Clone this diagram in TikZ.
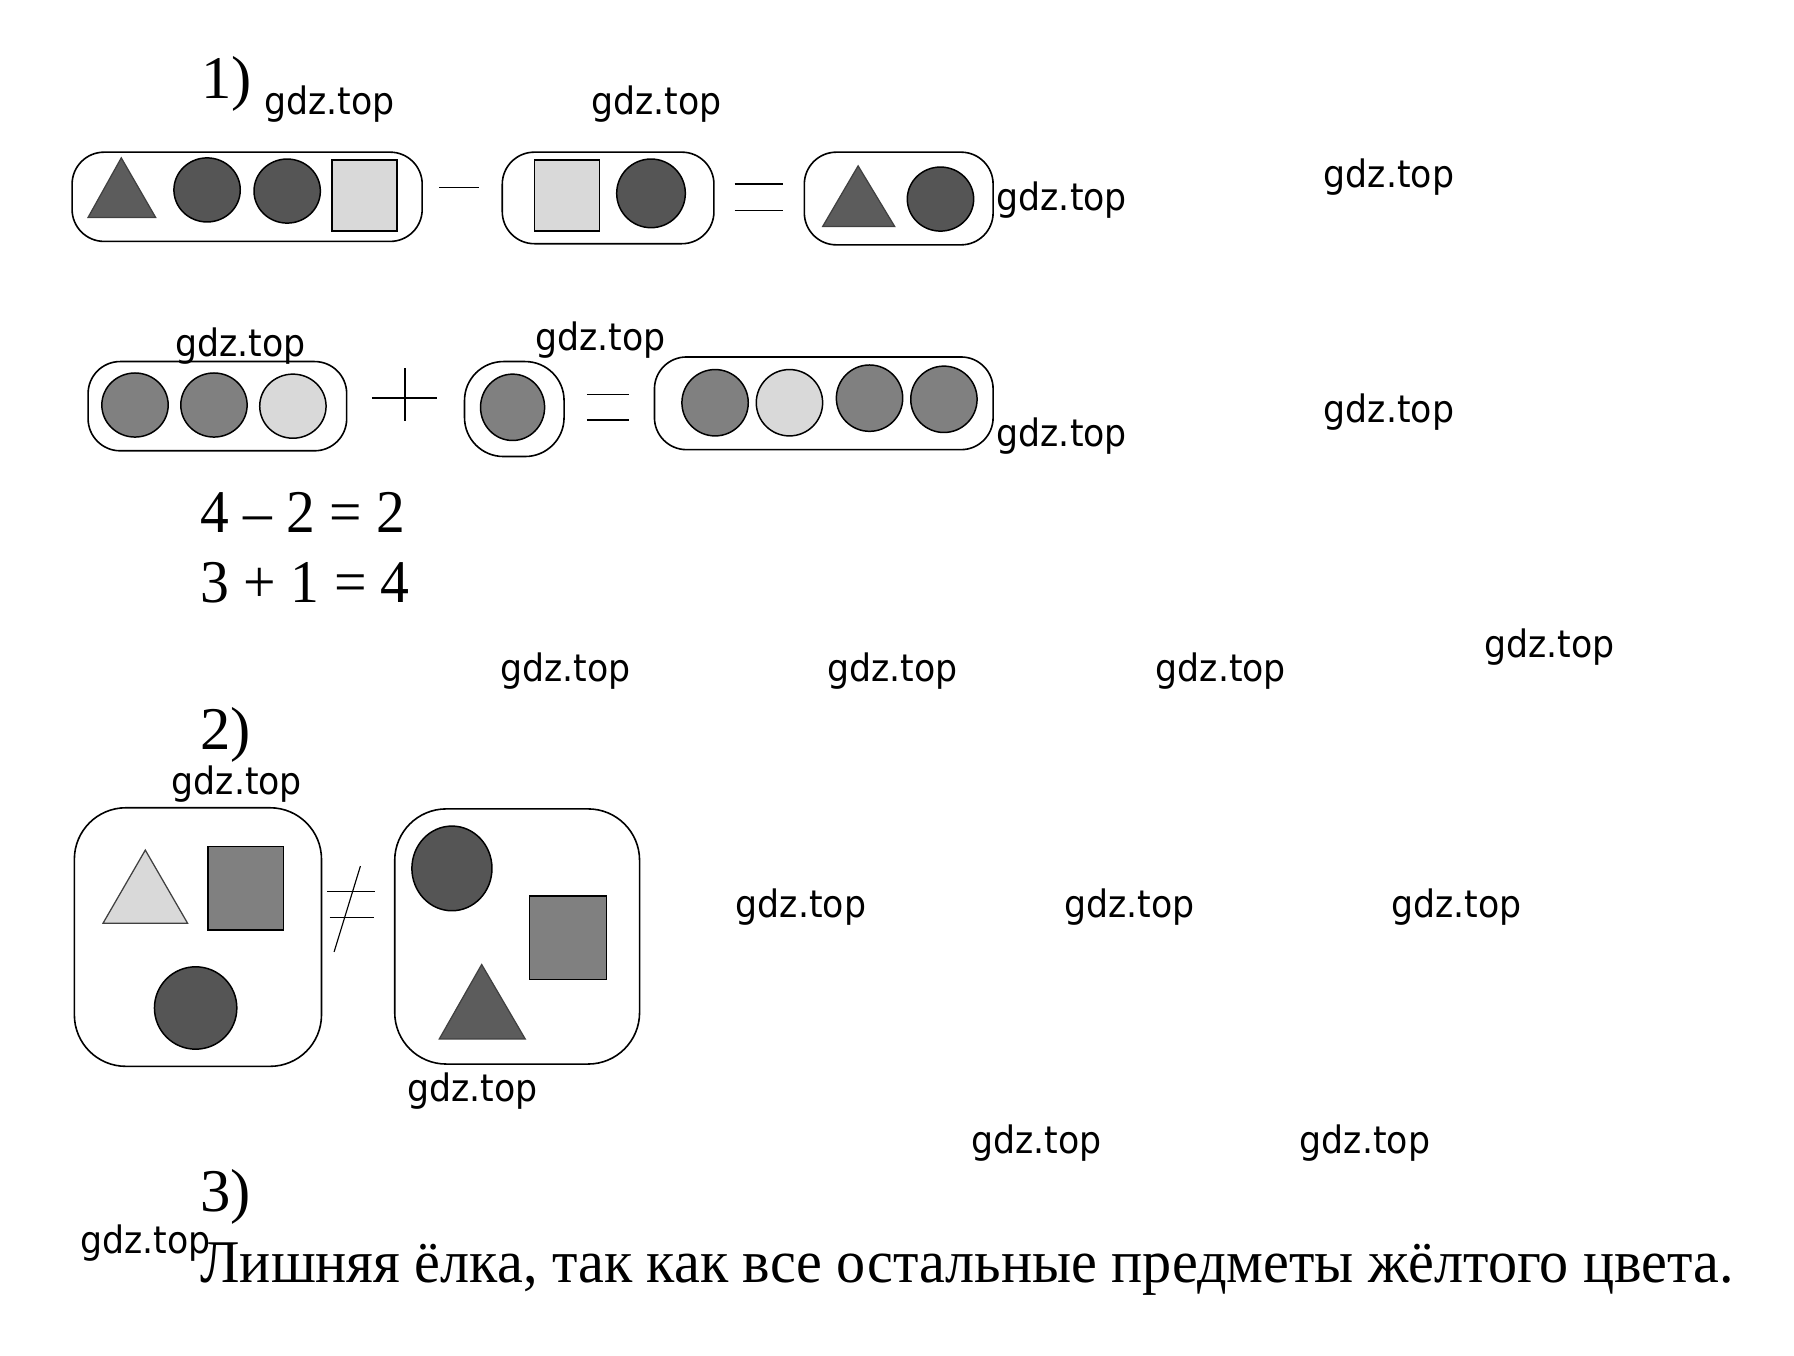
\documentclass[tikz,border=0pt]{standalone}
\usepackage{fontspec}
\setmainfont{Liberation Serif}
\newfontfamily\wm{DejaVu Sans}
\definecolor{dkgray}{HTML}{555555}
\definecolor{trgray}{HTML}{5C5C5C}
\definecolor{mdgray}{HTML}{808080}
\definecolor{ltgray}{HTML}{D9D9D9}
\newcommand\gdzmark{\scalebox{0.92}[1]{gdz.top}}
\begin{document}
\begin{tikzpicture}[x=1pt,y=-1pt,
  box/.style={draw=black,line width=1.4pt,rounded corners=#1},
  box/.default=28pt,
  shp/.style={draw=black,line width=1.3pt,fill=#1},
  tri/.style={draw=black!75,line width=1.1pt,fill=#1},
  op/.style={draw=black,line width=1.3pt},
  wmk/.style={anchor=base,font=\wm\fontsize{33}{36}\selectfont,inner sep=0pt},
  txt/.style={anchor=base west,font=\fontsize{53}{60}\selectfont,inner sep=0pt}]
\useasboundingbox[fill=white] (0,0) rectangle (1568,1185);

% ---------- 1) ----------
\node[txt] (n1) at (176,86) {1)};
% row 1
\draw[box] (63,133) rectangle (369,211);
\draw[tri=trgray] (106,138) -- (136,190) -- (77,190) -- cycle;
\draw[shp=dkgray] (181,166) circle[x radius=29pt,y radius=28pt];
\draw[shp=dkgray] (251,167) circle[x radius=29pt,y radius=28pt];
\draw[shp=ltgray] (290,140) rectangle (347,202);
\draw[op] (384,164) -- (419,164);
\draw[box] (439,133) rectangle (624,213);
\draw[shp=ltgray] (467,140) rectangle (524,202);
\draw[shp=dkgray] (569,169) circle[x radius=30pt,y radius=30pt];
\draw[op] (642,161) -- (684,161);
\draw[op] (642,184) -- (684,184);
\draw[box] (703,133) rectangle (868,214);
\draw[tri=trgray] (750,145) -- (782,198) -- (719,198) -- cycle;
\draw[shp=dkgray] (822,174) circle[x radius=29pt,y radius=28pt];

% row 2
\draw[box] (77,316) rectangle (303,394);
\draw[shp=mdgray] (118,354) circle[x radius=29pt,y radius=28pt];
\draw[shp=mdgray] (187,354) circle[x radius=29pt,y radius=28pt];
\draw[shp=ltgray] (256,355) circle[x radius=29pt,y radius=28pt];
\draw[op] (325,348) -- (382,348);
\draw[op] (354,322) -- (354,368);
\draw[box=34pt] (406,316) rectangle (493,399);
\draw[shp=mdgray] (448,356) circle[x radius=28pt,y radius=29pt];
\draw[op] (513,345) -- (550,345);
\draw[op] (513,367) -- (550,367);
\draw[box] (572,312) rectangle (868,393);
\draw[shp=mdgray] (625,352) circle[x radius=29pt,y radius=29pt];
\draw[shp=ltgray] (690,352) circle[x radius=29pt,y radius=29pt];
\draw[shp=mdgray] (760,348) circle[x radius=29pt,y radius=29pt];
\draw[shp=mdgray] (825,349) circle[x radius=29pt,y radius=29pt];

\node[txt] (eq1) at (175,465) {\resizebox{179pt}{\height}{4 – 2 = 2}};
\node[txt] (eq2) at (175,527) {\resizebox{183pt}{\height}{3 + 1 = 4}};

% ---------- 2) ----------
\node[txt] (n2) at (175,655) {2)};
\draw[box=45pt] (65,706) rectangle (281,932);
\draw[tri=ltgray] (127,743) -- (164,807) -- (90,807) -- cycle;
\draw[shp=mdgray] (182,740) rectangle (248,813);
\draw[shp=dkgray] (171,881) circle[x radius=36pt,y radius=36pt];
\draw[op] (286,779) -- (328,779);
\draw[op] (288,802) -- (327,802);
\draw[op,line width=1pt] (315,757) -- (292,832);
\draw[box=45pt] (345,707) rectangle (559,930);
\draw[shp=dkgray] (395,759) circle[x radius=35pt,y radius=37pt];
\draw[shp=mdgray] (463,783) rectangle (530,856);
\draw[tri=trgray] (421,843) -- (459,908) -- (384,908) -- cycle;

% ---------- 3) ----------
\node[txt] (n3) at (175,1059) {3)};
\node[txt] (sent) at (175,1121) {\resizebox{1340pt}{\height}{Лишняя ёлка, так как все остальные предметы жёлтого цвета.}};

% ---------- watermarks ----------
\node[wmk] (w1) at (288,100) {\gdzmark};
\node[wmk] (w2) at (574,100) {\gdzmark};
\node[wmk] (w3) at (928,184) {\gdzmark};
\node[wmk] (w4) at (1214,164) {\gdzmark};
\node[wmk] (w5) at (210,312) {\gdzmark};
\node[wmk] (w6) at (525,306) {\gdzmark};
\node[wmk] (w7) at (928,390) {\gdzmark};
\node[wmk] (w8) at (1214,369) {\gdzmark};
\node[wmk] (w9) at (494,596) {\gdzmark};
\node[wmk] (w10) at (780,596) {\gdzmark};
\node[wmk] (w11) at (1067,596) {\gdzmark};
\node[wmk] (w12) at (1354,575) {\gdzmark};
\node[wmk] (w13) at (207,694) {\gdzmark};
\node[wmk] (w14) at (700,802) {\gdzmark};
\node[wmk] (w15) at (987,802) {\gdzmark};
\node[wmk] (w16) at (1273,802) {\gdzmark};
\node[wmk] (w17) at (413,963) {\gdzmark};
\node[wmk] (w18) at (906,1008) {\gdzmark};
\node[wmk] (w19) at (1193,1008) {\gdzmark};
\node[wmk] (w20) at (127,1096) {\gdzmark};
\end{tikzpicture}
\end{document}
